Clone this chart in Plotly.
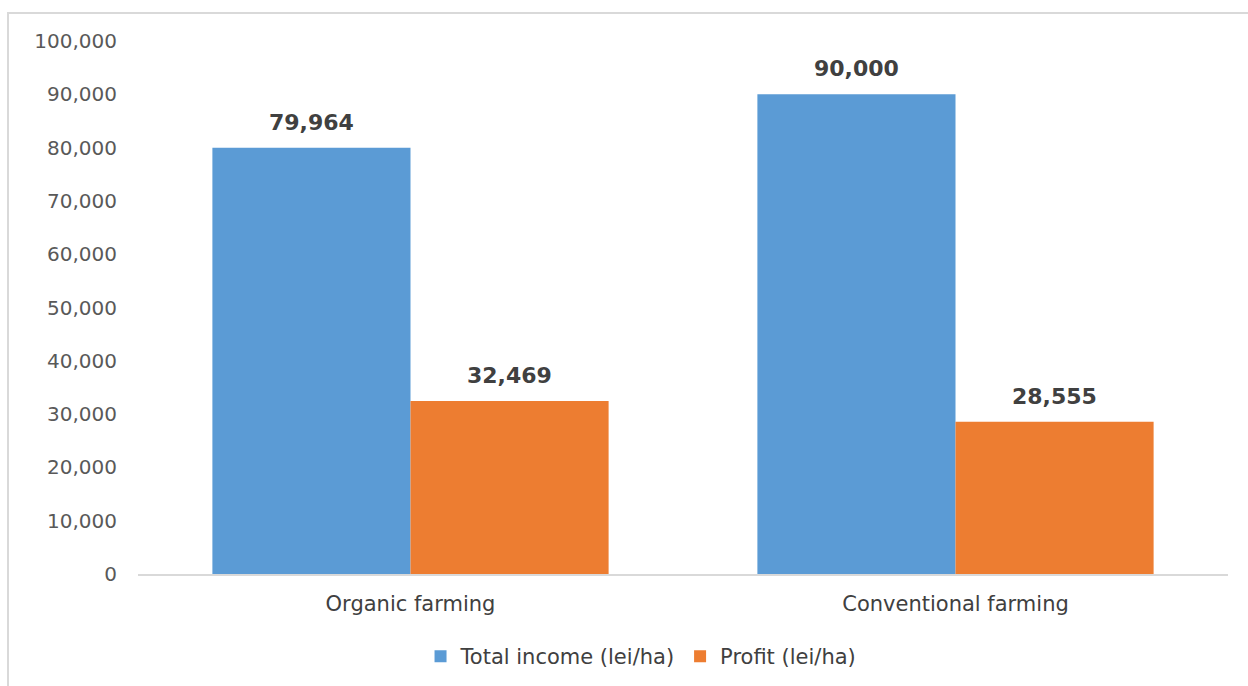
import plotly.graph_objects as go

categories = ["Organic farming", "Conventional farming"]
total_income = [79964, 90000]
profit = [32469, 28555]
series_names = ["Total income (lei/ha)", "Profit (lei/ha)"]
tick_values = [0, 10000, 20000, 30000, 40000, 50000, 60000, 70000, 80000, 90000, 100000]

BLUE = "#5b9bd5"
ORANGE = "#ed7d31"
FONT = "DejaVu Sans, sans-serif"

fig = go.Figure()
fig.add_trace(go.Bar(x=categories, y=total_income, name=series_names[0],
                     marker=dict(color=BLUE, line=dict(width=0))))
fig.add_trace(go.Bar(x=categories, y=profit, name=series_names[1],
                     marker=dict(color=ORANGE, line=dict(width=0))))

# value labels above each bar
half = (1 - 0.273) / 4
annotations = []
for i, cat in enumerate(categories):
    for offset, vals in ((-half, total_income), (half, profit)):
        annotations.append(dict(
            x=i + offset, y=vals[i], xref="x", yref="y",
            text=f"<b>{vals[i]:,}</b>", showarrow=False,
            yanchor="bottom", yshift=11,
            font=dict(family=FONT, size=22, color="#404040")))

fig.update_layout(
    width=1248, height=686,
    margin=dict(l=138, r=20, t=41, b=112, autoexpand=False),
    paper_bgcolor="white", plot_bgcolor="white",
    barmode="group", bargap=0.273, bargroupgap=0,
    font=dict(family=FONT, size=20, color="#595959"),
    showlegend=True,
    legend=dict(orientation="h", x=0.4615, xanchor="center", y=-0.155, yanchor="middle",
                font=dict(family=FONT, size=21, color="#404040"),
                itemwidth=30, traceorder="normal"),
    annotations=annotations,
    shapes=[dict(type="rect", xref="paper", yref="paper",
                 x0=(8 - 138) / 1090, x1=1.05, y0=-0.3, y1=(574 - 13) / 533,
                 line=dict(color="#d9d9d9", width=2), fillcolor="rgba(0,0,0,0)",
                 layer="below")],
)
fig.update_xaxes(showline=True, linecolor="#d9d9d9", linewidth=1.5,
                 ticks="", showgrid=False, ticklabelstandoff=10, automargin=False,
                 tickfont=dict(family=FONT, size=21, color="#404040"))
fig.update_yaxes(range=[0, 100000], tickvals=tick_values, tickformat=",",
                 showgrid=False, showline=False, zeroline=False, ticks="",
                 ticklabelstandoff=20, automargin=False,
                 tickfont=dict(family=FONT, size=20, color="#595959"))

fig.write_html("out.html")
